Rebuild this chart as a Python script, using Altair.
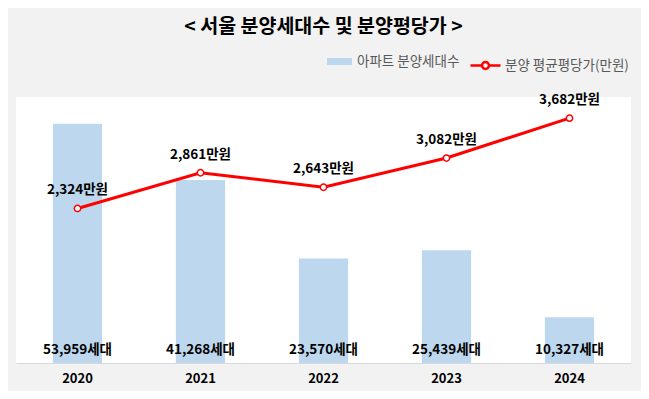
import altair as alt
import pandas as pd

years = ["2020", "2021", "2022", "2023", "2024"]
units = [53959, 41268, 23570, 25439, 10327]
prices = [2324, 2861, 2643, 3082, 3682]

bar_name = "아파트 분양세대수"
line_name = "분양 평균평당가(만원)"

df = pd.DataFrame({"year": years, "units": units, "price": prices,
                   "bar_s": [bar_name] * 5, "line_s": [line_name] * 5})

FONT = "Noto Sans CJK KR"

x = alt.X("year:N", title=None,
          scale=alt.Scale(paddingInner=0.6, paddingOuter=0.3),
          axis=alt.Axis(labelAngle=0, labelFont=FONT, labelFontSize=13, labelFontWeight="bold",
                        labelColor="#000000", ticks=False, domainColor="#d9d9d9",
                        labelPadding=9))

ybar = alt.Y("units:Q", scale=alt.Scale(domain=[0, 60000]), axis=None)
yline = alt.Y("price:Q", scale=alt.Scale(domain=[0, 4000]), axis=None)

bars = alt.Chart(df).mark_bar(color="#bdd7ee").encode(
    x=x, y=ybar,
    color=alt.Color("bar_s:N", scale=alt.Scale(domain=[bar_name], range=["#bdd7ee"]),
                    legend=alt.Legend(title=None, orient="none", legendX=311, legendY=-48,
                                      symbolType="M-1,-0.28H1V0.28H-1Z", symbolSize=625,
                                      symbolStrokeWidth=0, labelFont=FONT, labelFontSize=13.5,
                                      labelColor="#595959", labelOffset=5))
)

bar_text = alt.Chart(df).mark_text(font=FONT, fontSize=13.5, fontWeight="bold", color="#000000",
                                   baseline="bottom", dy=-6).transform_calculate(
    lab="format(datum.units, ',') + '세대'", zero="0"
).encode(x=x, y=alt.Y("zero:Q", scale=alt.Scale(domain=[0, 60000]), axis=None), text="lab:N")

line = alt.Chart(df).mark_line(strokeWidth=3).encode(
    x=x, y=yline,
    stroke=alt.Stroke("line_s:N", scale=alt.Scale(domain=[line_name], range=["#ff0000"]),
                      legend=alt.Legend(title=None, orient="none", legendX=453, legendY=-48,
                                        symbolType="M-1,0H-0.25M0.25,0H1M-0.23,0A0.23,0.23 0 1,0 0.23,0A0.23,0.23 0 1,0 -0.23,0",
                                        symbolSize=900, symbolStrokeWidth=2.5,
                                        symbolFillColor="#ffffff",
                                        labelFont=FONT, labelFontSize=13.5,
                                        labelColor="#595959", labelOffset=3))
)

pts = alt.Chart(df).mark_point(filled=True, fill="#ffffff", stroke="#ff0000", strokeWidth=1.5,
                               size=40, opacity=1).encode(x=x, y=yline)

line_text = alt.Chart(df).mark_text(font=FONT, fontSize=13.5, fontWeight="bold", color="#000000",
                                    baseline="bottom", dy=-11).transform_calculate(
    lab="format(datum.price, ',') + '만원'"
).encode(x=x, y=yline, text="lab:N")

left = alt.layer(bars, bar_text)
right = alt.layer(line, pts, line_text)

chart = alt.layer(left, right).resolve_scale(y="independent").properties(
    width=615, height=266,
    autosize=alt.AutoSizeParams(type="none"),
    padding={"left": 8, "top": 89, "right": 10, "bottom": 28},
    background="#f2f2f2",
    title=alt.Title("< 서울 분양세대수 및 분양평당가 >", font=FONT, fontSize=19.5, fontWeight="bold",
                    color="#000000", anchor="middle", offset=12),
).configure_view(fill="#ffffff", stroke=None)

chart.save("out.html", embed_options={"renderer": "svg", "actions": False})
